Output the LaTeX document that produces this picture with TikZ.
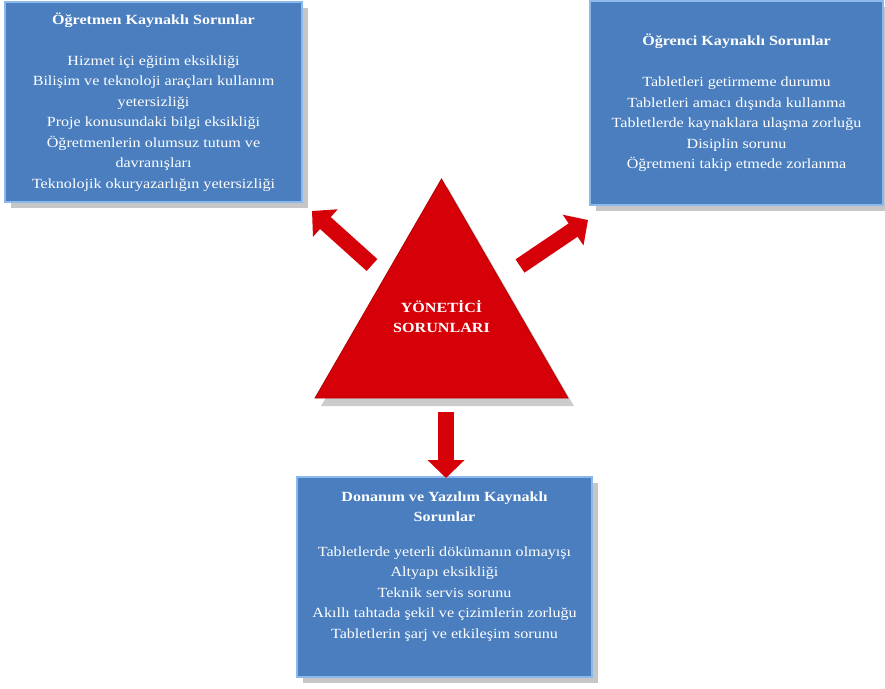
\documentclass[tikz,border=0pt]{standalone}
\usepackage{fontspec}
\setmainfont{Liberation Serif}[FakeStretch=1.15]
\usepackage{tikz}
\usetikzlibrary{shadows}
\usetikzlibrary{shapes.geometric}
\usetikzlibrary{arrows.meta}

\definecolor{kutumavi}{RGB}{74,126,190}
\definecolor{kutuacik}{RGB}{140,185,235}
\definecolor{ucgenkirmizi}{RGB}{214,0,8}

\tikzset{
  kutu/.style={rectangle, fill=kutumavi, draw=kutuacik, line width=1.2pt,
    text=white, align=center, font=\fontsize{14}{20.5}\selectfont,
    drop shadow={opacity=0.45, shadow xshift=6pt, shadow yshift=-6pt},
    inner sep=0pt},
  okcizgi/.style={line width=16pt, ucgenkirmizi, -{Triangle[width=36pt,length=18pt]}}
}

\begin{document}
\begin{tikzpicture}[x=1pt, y=-1pt]
                \useasboundingbox (0,0) rectangle (885,688);

                % Ogretmen kutusu
                \node[kutu, minimum width=297pt, minimum height=200pt] (ogretmen) at (153.5,102)
                  {\textbf{Öğretmen Kaynaklı Sorunlar}\\[20.5pt]
                   Hizmet içi eğitim eksikliği\\
                   Bilişim ve teknoloji araçları kullanım\\
                   yetersizliği\\
                   Proje konusundaki bilgi eksikliği\\
                   Öğretmenlerin olumsuz tutum ve\\
                   davranışları\\
                   Teknolojik okuryazarlığın yetersizliği};

                % Ogrenci kutusu
                \node[kutu, minimum width=293pt, minimum height=204pt] (ogrenci) at (736.5,103)
                  {\textbf{Öğrenci Kaynaklı Sorunlar}\\[20.5pt]
                   Tabletleri getirmeme durumu\\
                   Tabletleri amacı dışında kullanma\\
                   Tabletlerde kaynaklara ulaşma zorluğu\\
                   Disiplin sorunu\\
                   Öğretmeni takip etmede zorlanma};

                % Donanim kutusu
                \node[kutu, minimum width=295pt, minimum height=200pt] (donanim) at (444.5,577)
                  {\textbf{Donanım ve Yazılım Kaynaklı}\\
                   \textbf{Sorunlar}\\[14pt]
                   Tabletlerde yeterli dökümanın olmayışı\\
                   Altyapı eksikliği\\
                   Teknik servis sorunu\\
                   Akıllı tahtada şekil ve çizimlerin zorluğu\\
                   Tabletlerin şarj ve etkileşim sorunu\\[4pt]};

                % Yonetici ucgeni
                \node[regular polygon, regular polygon sides=3, minimum size=292pt,
                      inner sep=0pt, fill=ucgenkirmizi, draw=red!70!black, line width=0.8pt,
                      drop shadow={opacity=0.4, shadow xshift=6pt, shadow yshift=-8pt}] (yonetici) at (441.5,325) {};
                \node[text=white, align=center, font=\fontsize{14}{20}\selectfont\bfseries] (baslik) at (441.5,317)
                  {YÖNETİCİ\\SORUNLARI};

                % Oklar
                \coordinate (solbas) at (372,265);
                \coordinate (solson) at (312,211);
                \coordinate (sagbas) at (520,266);
                \coordinate (sagson) at (588,220);
                \coordinate (altbas) at (446,412);
                \coordinate (altson) at (446,478);
                \draw[okcizgi] (solbas) -- (solson);
                \draw[okcizgi] (sagbas) -- (sagson);
                \draw[okcizgi] (altbas) -- (altson);
            \end{tikzpicture}
\end{document}
